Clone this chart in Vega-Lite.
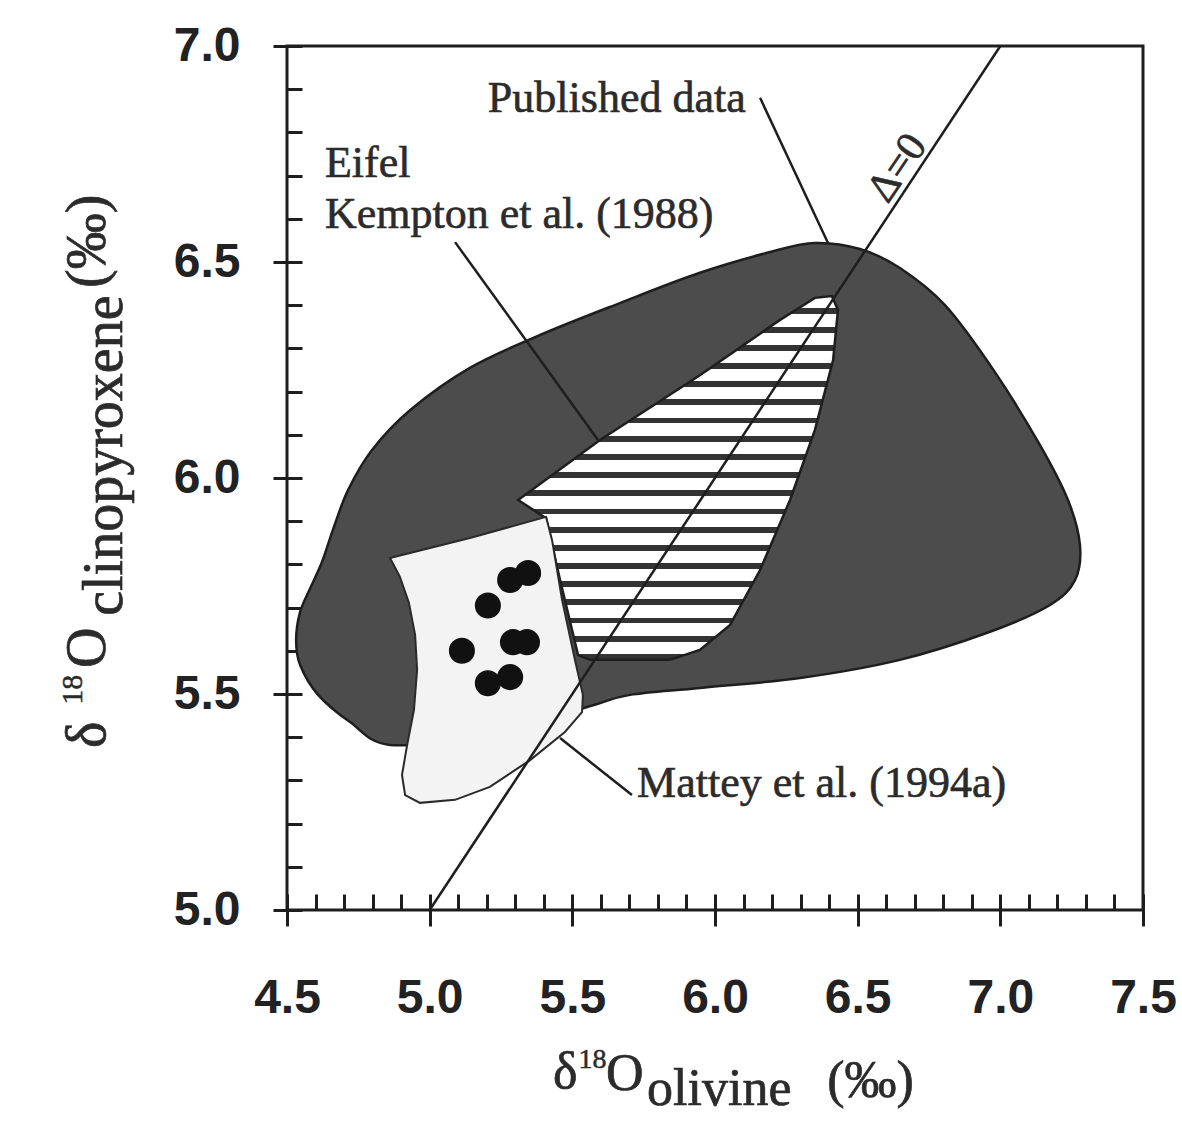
{
  "$schema": "https://vega.github.io/schema/vega-lite/v6.json",
  "width": 856,
  "height": 864,
  "autosize": {"type": "none"},
  "padding": {"left": 287, "top": 46, "right": 39, "bottom": 219},
  "background": "white",
  "config": {
    "view": {"stroke": "#1e1e1e", "strokeWidth": 3},
    "axis": {"grid": false, "title": null}
  },
  "datasets": {
    "pub": [
      {"i": 0, "x": 4.532, "y": 5.625}, {"i": 1, "x": 4.546, "y": 5.690}, {"i": 2, "x": 4.583, "y": 5.747},
      {"i": 3, "x": 4.623, "y": 5.806}, {"i": 4, "x": 4.661, "y": 5.880}, {"i": 5, "x": 4.714, "y": 5.972},
      {"i": 6, "x": 4.798, "y": 6.065}, {"i": 7, "x": 4.931, "y": 6.157}, {"i": 8, "x": 5.141, "y": 6.255},
      {"i": 9, "x": 5.387, "y": 6.331}, {"i": 10, "x": 5.667, "y": 6.405}, {"i": 11, "x": 5.947, "y": 6.475},
      {"i": 12, "x": 6.193, "y": 6.523}, {"i": 13, "x": 6.350, "y": 6.544}, {"i": 14, "x": 6.508, "y": 6.530},
      {"i": 15, "x": 6.648, "y": 6.486}, {"i": 16, "x": 6.806, "y": 6.400}, {"i": 17, "x": 6.981, "y": 6.245},
      {"i": 18, "x": 7.139, "y": 6.076}, {"i": 19, "x": 7.237, "y": 5.949}, {"i": 20, "x": 7.279, "y": 5.845},
      {"i": 21, "x": 7.262, "y": 5.764}, {"i": 22, "x": 7.174, "y": 5.706}, {"i": 23, "x": 6.964, "y": 5.644},
      {"i": 24, "x": 6.648, "y": 5.579}, {"i": 25, "x": 6.298, "y": 5.537}, {"i": 26, "x": 5.947, "y": 5.514},
      {"i": 27, "x": 5.702, "y": 5.498}, {"i": 28, "x": 5.579, "y": 5.475}, {"i": 29, "x": 5.457, "y": 5.452},
      {"i": 30, "x": 5.176, "y": 5.405}, {"i": 31, "x": 4.861, "y": 5.382}, {"i": 32, "x": 4.721, "y": 5.435},
      {"i": 33, "x": 4.609, "y": 5.498}, {"i": 34, "x": 4.546, "y": 5.567}
    ],
    "kempton": [
      {"i": 0, "x": 5.310, "y": 5.949}, {"i": 1, "x": 5.597, "y": 6.088}, {"i": 2, "x": 5.947, "y": 6.238},
      {"i": 3, "x": 6.228, "y": 6.366}, {"i": 4, "x": 6.350, "y": 6.417}, {"i": 5, "x": 6.410, "y": 6.421},
      {"i": 6, "x": 6.431, "y": 6.389}, {"i": 7, "x": 6.414, "y": 6.273}, {"i": 8, "x": 6.350, "y": 6.111},
      {"i": 9, "x": 6.263, "y": 5.949}, {"i": 10, "x": 6.158, "y": 5.787}, {"i": 11, "x": 6.053, "y": 5.660},
      {"i": 12, "x": 5.947, "y": 5.602}, {"i": 13, "x": 5.842, "y": 5.579}, {"i": 14, "x": 5.562, "y": 5.579},
      {"i": 15, "x": 5.520, "y": 5.590}, {"i": 16, "x": 5.457, "y": 5.764}, {"i": 17, "x": 5.408, "y": 5.907}
    ],
    "mattey": [
      {"i": 0, "x": 4.861, "y": 5.815}, {"i": 1, "x": 5.141, "y": 5.861}, {"i": 2, "x": 5.408, "y": 5.910},
      {"i": 3, "x": 5.429, "y": 5.856}, {"i": 4, "x": 5.464, "y": 5.718}, {"i": 5, "x": 5.509, "y": 5.579},
      {"i": 6, "x": 5.537, "y": 5.498}, {"i": 7, "x": 5.534, "y": 5.458}, {"i": 8, "x": 5.474, "y": 5.412},
      {"i": 9, "x": 5.352, "y": 5.347}, {"i": 10, "x": 5.211, "y": 5.285}, {"i": 11, "x": 5.089, "y": 5.255},
      {"i": 12, "x": 4.966, "y": 5.248}, {"i": 13, "x": 4.914, "y": 5.266}, {"i": 14, "x": 4.903, "y": 5.3125},
      {"i": 15, "x": 4.921, "y": 5.382}, {"i": 16, "x": 4.945, "y": 5.463}, {"i": 17, "x": 4.956, "y": 5.556},
      {"i": 18, "x": 4.949, "y": 5.637}, {"i": 19, "x": 4.927, "y": 5.712}, {"i": 20, "x": 4.895, "y": 5.772}
    ],
    "dots": [
      {"x": 5.204, "y": 5.705}, {"x": 5.282, "y": 5.764}, {"x": 5.345, "y": 5.780}, {"x": 5.113, "y": 5.600},
      {"x": 5.292, "y": 5.620}, {"x": 5.341, "y": 5.620}, {"x": 5.204, "y": 5.525}, {"x": 5.282, "y": 5.539}
    ],
    "lines": [
      {"name": "delta0", "x": 5.0, "y": 5.0, "x2": 7.0, "y2": 7.0},
      {"name": "published", "x": 6.158, "y": 6.880, "x2": 6.396, "y2": 6.544},
      {"name": "kempton", "x": 5.089, "y": 6.546, "x2": 5.590, "y2": 6.088},
      {"name": "mattey", "x": 5.709, "y": 5.266, "x2": 5.457, "y2": 5.398}
    ],
    "labels": [
      {"t": "Published data", "x": 5.204, "y": 6.847},
      {"t": "Eifel", "x": 4.633, "y": 6.697},
      {"t": "Kempton et al. (1988)", "x": 4.633, "y": 6.579},
      {"t": "Mattey et al. (1994a)", "x": 5.727, "y": 5.262}
    ],
    "delta": [
      {"t": "Δ=0", "x": 6.638, "y": 6.718}
    ],
    "titles": [
      {"g": "xm", "t": "δ", "x": 5.432, "y": 4.588},
      {"g": "xm", "t": "O", "x": 5.618, "y": 4.583},
      {"g": "xm", "t": "olivine", "x": 5.762, "y": 4.548},
      {"g": "xm", "t": "(‰)", "x": 6.393, "y": 4.567},
      {"g": "xs", "t": "18", "x": 5.522, "y": 4.634},
      {"g": "ym", "t": "δ", "x": 3.862, "y": 5.375},
      {"g": "ym", "t": "O", "x": 3.862, "y": 5.560},
      {"g": "ym", "t": "clinopyroxene", "x": 3.922, "y": 5.681},
      {"g": "ym", "t": "(‰)", "x": 3.862, "y": 6.440},
      {"g": "ys", "t": "18", "x": 3.782, "y": 5.475}
    ]
  },
  "layer": [
    {
      "data": {"name": "pub"},
      "mark": {"type": "line", "interpolate": "cardinal-closed", "fill": "#4c4c4c", "stroke": "#1e1e1e", "strokeWidth": 2.5},
      "encoding": {
        "x": {"field": "x", "type": "quantitative",
          "scale": {"domain": [4.5, 7.5], "nice": false, "zero": false},
          "axis": {"orient": "bottom", "values": [4.5, 5.0, 5.5, 6.0, 6.5, 7.0, 7.5], "format": ".1f", "title": null, "grid": false,
            "domain": false, "ticks": true, "tickSize": 16, "tickWidth": 3, "tickColor": "#1e1e1e",
            "labelFont": "Liberation Sans", "labelFontSize": 48, "labelFontWeight": "bold", "labelColor": "#222222",
            "labelPadding": 48, "labelFlush": false, "labelOverlap": false, "labelBound": false}},
        "y": {"field": "y", "type": "quantitative",
          "scale": {"domain": [5.0, 7.0], "nice": false, "zero": false},
          "axis": {"orient": "left", "values": [5.0, 5.5, 6.0, 6.5, 7.0], "format": ".1f", "title": null, "grid": false,
            "domain": false, "ticks": true, "tickSize": 14, "tickWidth": 3, "tickColor": "#1e1e1e",
            "labelFont": "Liberation Sans", "labelFontSize": 48, "labelFontWeight": "bold", "labelColor": "#222222",
            "labelPadding": 33, "labelFlush": false, "labelOverlap": false, "labelBound": false}},
        "order": {"field": "i", "type": "quantitative"}
      }
    },
    {
      "data": {"name": "kempton"},
      "mark": {"type": "line", "interpolate": "linear-closed", "stroke": "#1e1e1e", "strokeWidth": 2.5,
        "fill": {"gradient": "linear", "x1": 0, "y1": 0, "x2": 0, "y2": 1, "stops": [
          {"offset": 0, "color": "#ffffff"}, {"offset": 0.034, "color": "#ffffff"}, {"offset": 0.034, "color": "#333333"}, {"offset": 0.05, "color": "#333333"},
          {"offset": 0.05, "color": "#ffffff"}, {"offset": 0.084, "color": "#ffffff"}, {"offset": 0.084, "color": "#333333"}, {"offset": 0.1, "color": "#333333"},
          {"offset": 0.1, "color": "#ffffff"}, {"offset": 0.134, "color": "#ffffff"}, {"offset": 0.134, "color": "#333333"}, {"offset": 0.15, "color": "#333333"},
          {"offset": 0.15, "color": "#ffffff"}, {"offset": 0.184, "color": "#ffffff"}, {"offset": 0.184, "color": "#333333"}, {"offset": 0.2, "color": "#333333"},
          {"offset": 0.2, "color": "#ffffff"}, {"offset": 0.234, "color": "#ffffff"}, {"offset": 0.234, "color": "#333333"}, {"offset": 0.25, "color": "#333333"},
          {"offset": 0.25, "color": "#ffffff"}, {"offset": 0.284, "color": "#ffffff"}, {"offset": 0.284, "color": "#333333"}, {"offset": 0.3, "color": "#333333"},
          {"offset": 0.3, "color": "#ffffff"}, {"offset": 0.334, "color": "#ffffff"}, {"offset": 0.334, "color": "#333333"}, {"offset": 0.35, "color": "#333333"},
          {"offset": 0.35, "color": "#ffffff"}, {"offset": 0.384, "color": "#ffffff"}, {"offset": 0.384, "color": "#333333"}, {"offset": 0.4, "color": "#333333"},
          {"offset": 0.4, "color": "#ffffff"}, {"offset": 0.434, "color": "#ffffff"}, {"offset": 0.434, "color": "#333333"}, {"offset": 0.45, "color": "#333333"},
          {"offset": 0.45, "color": "#ffffff"}, {"offset": 0.484, "color": "#ffffff"}, {"offset": 0.484, "color": "#333333"}, {"offset": 0.5, "color": "#333333"},
          {"offset": 0.5, "color": "#ffffff"}, {"offset": 0.534, "color": "#ffffff"}, {"offset": 0.534, "color": "#333333"}, {"offset": 0.55, "color": "#333333"},
          {"offset": 0.55, "color": "#ffffff"}, {"offset": 0.584, "color": "#ffffff"}, {"offset": 0.584, "color": "#333333"}, {"offset": 0.6, "color": "#333333"},
          {"offset": 0.6, "color": "#ffffff"}, {"offset": 0.634, "color": "#ffffff"}, {"offset": 0.634, "color": "#333333"}, {"offset": 0.65, "color": "#333333"},
          {"offset": 0.65, "color": "#ffffff"}, {"offset": 0.684, "color": "#ffffff"}, {"offset": 0.684, "color": "#333333"}, {"offset": 0.7, "color": "#333333"},
          {"offset": 0.7, "color": "#ffffff"}, {"offset": 0.734, "color": "#ffffff"}, {"offset": 0.734, "color": "#333333"}, {"offset": 0.75, "color": "#333333"},
          {"offset": 0.75, "color": "#ffffff"}, {"offset": 0.784, "color": "#ffffff"}, {"offset": 0.784, "color": "#333333"}, {"offset": 0.8, "color": "#333333"},
          {"offset": 0.8, "color": "#ffffff"}, {"offset": 0.834, "color": "#ffffff"}, {"offset": 0.834, "color": "#333333"}, {"offset": 0.85, "color": "#333333"},
          {"offset": 0.85, "color": "#ffffff"}, {"offset": 0.884, "color": "#ffffff"}, {"offset": 0.884, "color": "#333333"}, {"offset": 0.9, "color": "#333333"},
          {"offset": 0.9, "color": "#ffffff"}, {"offset": 0.934, "color": "#ffffff"}, {"offset": 0.934, "color": "#333333"}, {"offset": 0.95, "color": "#333333"},
          {"offset": 0.95, "color": "#ffffff"}, {"offset": 0.984, "color": "#ffffff"}, {"offset": 0.984, "color": "#333333"}, {"offset": 1, "color": "#333333"}
        ]}},
      "encoding": {
        "x": {"field": "x", "type": "quantitative",
          "axis": {"orient": "bottom", "values": [4.5, 4.6, 4.7, 4.8, 4.9, 5.0, 5.1, 5.2, 5.3, 5.4, 5.5, 5.6, 5.7, 5.8, 5.9, 6.0, 6.1, 6.2, 6.3, 6.4, 6.5, 6.6, 6.7, 6.8, 6.9, 7.0, 7.1, 7.2, 7.3, 7.4, 7.5],
            "labels": false, "domain": false, "grid": false, "title": null, "tickSize": -16, "tickWidth": 3, "tickColor": "#1e1e1e"}},
        "y": {"field": "y", "type": "quantitative",
          "axis": {"orient": "left", "values": [5.0, 5.1, 5.2, 5.3, 5.4, 5.5, 5.6, 5.7, 5.8, 5.9, 6.0, 6.1, 6.2, 6.3, 6.4, 6.5, 6.6, 6.7, 6.8, 6.9, 7.0],
            "labels": false, "domain": false, "grid": false, "title": null, "tickSize": -15, "tickWidth": 3, "tickColor": "#1e1e1e"}},
        "order": {"field": "i", "type": "quantitative"}
      }
    },
    {
      "data": {"name": "mattey"},
      "mark": {"type": "line", "interpolate": "linear-closed", "fill": "#f3f3f3", "stroke": "#2a2a2a", "strokeWidth": 2},
      "encoding": {
        "x": {"field": "x", "type": "quantitative", "axis": null},
        "y": {"field": "y", "type": "quantitative", "axis": null},
        "order": {"field": "i", "type": "quantitative"}
      }
    },
    {
      "data": {"name": "lines"},
      "mark": {"type": "rule", "stroke": "#1e1e1e", "strokeWidth": 2.5},
      "encoding": {
        "x": {"field": "x", "type": "quantitative", "axis": null},
        "y": {"field": "y", "type": "quantitative", "axis": null},
        "x2": {"field": "x2"},
        "y2": {"field": "y2"}
      }
    },
    {
      "data": {"name": "dots"},
      "mark": {"type": "point", "shape": "circle", "filled": true, "size": 680, "color": "#111111", "opacity": 1},
      "encoding": {
        "x": {"field": "x", "type": "quantitative", "axis": null},
        "y": {"field": "y", "type": "quantitative", "axis": null}
      }
    },
    {
      "data": {"name": "labels"},
      "mark": {"type": "text", "font": "Liberation Serif", "fontSize": 44, "align": "left", "baseline": "alphabetic", "color": "#2b2b2b", "stroke": "#2b2b2b", "strokeWidth": 0.6},
      "encoding": {
        "x": {"field": "x", "type": "quantitative", "axis": null},
        "y": {"field": "y", "type": "quantitative", "axis": null},
        "text": {"field": "t"}
      }
    },
    {
      "data": {"name": "delta"},
      "mark": {"type": "text", "font": "Liberation Serif", "fontSize": 42, "align": "center", "baseline": "middle", "angle": -56, "color": "#2b2b2b", "stroke": "#2b2b2b", "strokeWidth": 0.6},
      "encoding": {
        "x": {"field": "x", "type": "quantitative", "axis": null},
        "y": {"field": "y", "type": "quantitative", "axis": null},
        "text": {"field": "t"}
      }
    },
    {
      "data": {"name": "titles"},
      "transform": [{"filter": "datum.g === 'xm'"}],
      "mark": {"type": "text", "font": "Liberation Serif", "fontSize": 52, "align": "left", "baseline": "alphabetic", "color": "#2b2b2b", "stroke": "#2b2b2b", "strokeWidth": 0.7},
      "encoding": {
        "x": {"field": "x", "type": "quantitative", "axis": null},
        "y": {"field": "y", "type": "quantitative", "axis": null},
        "text": {"field": "t"}
      }
    },
    {
      "data": {"name": "titles"},
      "transform": [{"filter": "datum.g === 'xs'"}],
      "mark": {"type": "text", "font": "Liberation Serif", "fontSize": 28, "align": "left", "baseline": "alphabetic", "color": "#2b2b2b", "stroke": "#2b2b2b", "strokeWidth": 0.5},
      "encoding": {
        "x": {"field": "x", "type": "quantitative", "axis": null},
        "y": {"field": "y", "type": "quantitative", "axis": null},
        "text": {"field": "t"}
      }
    },
    {
      "data": {"name": "titles"},
      "transform": [{"filter": "datum.g === 'ym'"}],
      "mark": {"type": "text", "font": "Liberation Serif", "fontSize": 56, "align": "left", "baseline": "alphabetic", "angle": -90, "color": "#2b2b2b", "stroke": "#2b2b2b", "strokeWidth": 0.7},
      "encoding": {
        "x": {"field": "x", "type": "quantitative", "axis": null},
        "y": {"field": "y", "type": "quantitative", "axis": null},
        "text": {"field": "t"}
      }
    },
    {
      "data": {"name": "titles"},
      "transform": [{"filter": "datum.g === 'ys'"}],
      "mark": {"type": "text", "font": "Liberation Serif", "fontSize": 30, "align": "left", "baseline": "alphabetic", "angle": -90, "color": "#2b2b2b", "stroke": "#2b2b2b", "strokeWidth": 0.5},
      "encoding": {
        "x": {"field": "x", "type": "quantitative", "axis": null},
        "y": {"field": "y", "type": "quantitative", "axis": null},
        "text": {"field": "t"}
      }
    }
  ],
  "resolve": {"axis": {"x": "independent", "y": "independent"}}
}
